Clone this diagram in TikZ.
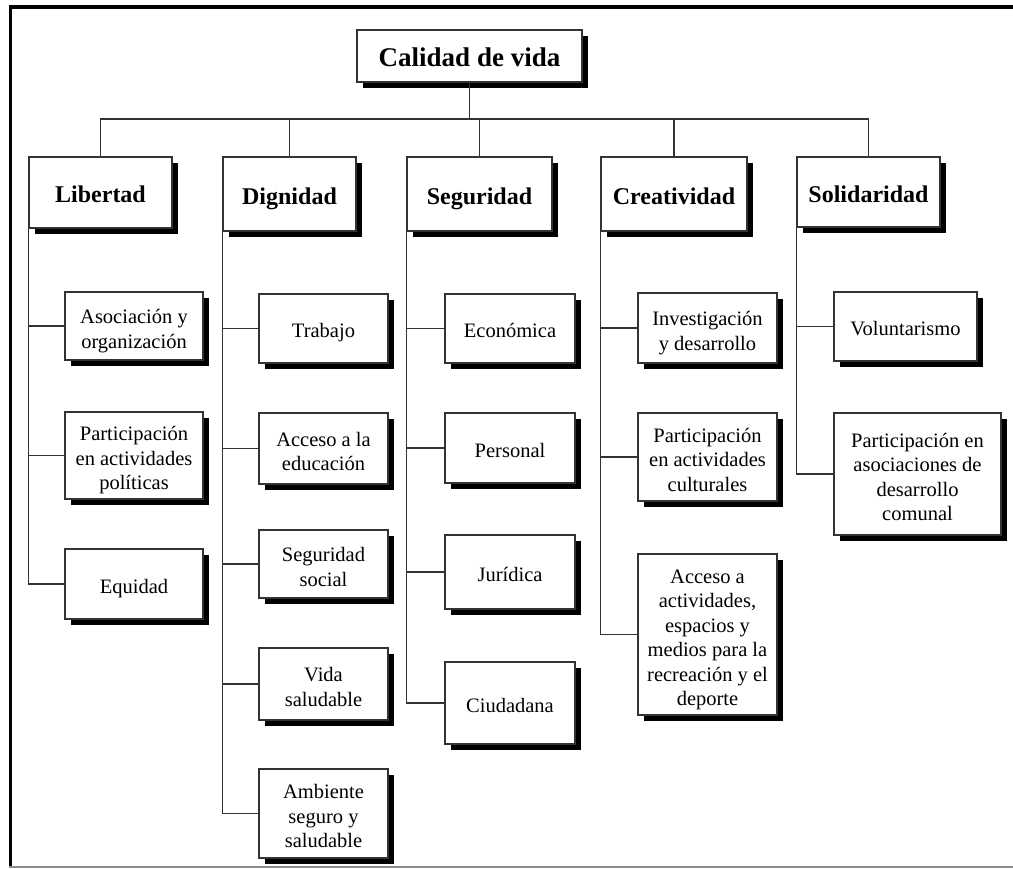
\documentclass[tikz,border=0pt]{standalone}
\usepackage{fontspec}
\setmainfont{Liberation Serif}
\usetikzlibrary{shadows}
\newcommand\topstrut{\rule{0pt}{\dimexpr0.7\baselineskip+9pt\relax}}
\newcommand\ms{\rule{0pt}{\dimexpr0.7\baselineskip+10pt\relax}}
\begin{document}
\begin{tikzpicture}[x=1pt,y=-1pt,
  box/.style={draw=black!80, line width=1.6pt, fill=white, align=center,
    inner sep=2pt, text=black,
    execute at begin node=\topstrut, execute at end node=\strut,
    drop shadow={shadow xshift=6pt, shadow yshift=-6pt, opacity=1, fill=black}},
  topbox/.style={box, font=\bfseries\fontsize{27}{31}\selectfont},
  headbox/.style={box, font=\bfseries\fontsize{24}{28}\selectfont},
  leafbox/.style={box, font=\fontsize{20.5}{24.5}\selectfont},
  conn/.style={draw=black!80, line width=1.4pt},
  frameline/.style={draw=black, line width=3.5pt}
]
\useasboundingbox (0,0) rectangle (1013,869);
% frame
\draw[frameline] (10.5,7) -- (1013,7);
\draw[frameline] (10.5,5.25) -- (10.5,867);
\draw[draw=black!45, line width=1.5pt] (9,867) -- (1013,867);

% top
\node[topbox, minimum width=225pt, minimum height=52pt] (top) at (469.5,56) {Calidad de vida};

% headers
\node[headbox, minimum width=143pt, minimum height=71pt] (lib) at (100.5,192.5) {Libertad};
\node[headbox, minimum width=133pt, minimum height=74pt] (dig) at (289.5,194) {Dignidad};
\node[headbox, minimum width=145pt, minimum height=74pt] (seg) at (479.5,194) {Seguridad};
\node[headbox, minimum width=146pt, minimum height=74pt] (cre) at (674,194) {Creatividad};
\node[headbox, minimum width=143pt, minimum height=70pt] (sol) at (868.5,192) {Solidaridad};

% Libertad children
\node[leafbox, minimum width=138pt, minimum height=68pt] (l1) at (134,326) {\ms Asociación y\\organización};
\node[leafbox, minimum width=138pt, minimum height=85pt] (l2) at (134,455.5) {\ms Participación\\en actividades\\políticas};
\node[leafbox, minimum width=138pt, minimum height=70pt] (l3) at (134,584) {Equidad};

% Dignidad children
\node[leafbox, minimum width=129pt, minimum height=69pt] (d1) at (323.5,328.5) {Trabajo};
\node[leafbox, minimum width=129pt, minimum height=71pt] (d2) at (323.5,448.5) {\ms Acceso a la\\educación};
\node[leafbox, minimum width=129pt, minimum height=68pt] (d3) at (323.5,564) {\ms Seguridad\\social};
\node[leafbox, minimum width=129pt, minimum height=72pt] (d4) at (323.5,684) {\ms Vida\\saludable};
\node[leafbox, minimum width=129pt, minimum height=89pt] (d5) at (323.5,813.5) {\ms Ambiente\\seguro y\\saludable};

% Seguridad children
\node[leafbox, minimum width=130pt, minimum height=69pt] (s1) at (510,328.5) {Económica};
\node[leafbox, minimum width=130pt, minimum height=70pt] (s2) at (510,448) {Personal};
\node[leafbox, minimum width=130pt, minimum height=74pt] (s3) at (510,572) {Jurídica};
\node[leafbox, minimum width=130pt, minimum height=82pt] (s4) at (510,703) {Ciudadana};

% Creatividad children
\node[leafbox, minimum width=139pt, minimum height=70pt] (c1) at (707.5,328) {\ms Investigación\\y desarrollo};
\node[leafbox, minimum width=139pt, minimum height=86pt] (c2) at (707.5,457) {\ms Participación\\en actividades\\culturales};
\node[leafbox, minimum width=139pt, minimum height=161pt] (c3) at (707.5,634.5) {\ms Acceso a\\actividades,\\espacios y\\medios para la\\recreación y el\\deporte};

% Solidaridad children
\node[leafbox, minimum width=143pt, minimum height=69pt] (o1) at (905.5,326.5) {Voluntarismo};
\node[leafbox, minimum width=167pt, minimum height=122pt] (o2) at (917.5,474) {\ms Participación en\\asociaciones de\\desarrollo\\comunal};

% connectors top level
\coordinate (bar) at (0,119);
\draw[conn] (top.south) -- (top.south |- bar);
\draw[conn] (lib.north) -- (lib.north |- bar) -- (sol.north |- bar) -- (sol.north);
\draw[conn] (dig.north) -- (dig.north |- bar);
\draw[conn] (seg.north) -- (seg.north |- bar);
\draw[conn] (cre.north) -- (cre.north |- bar);

% spines
\draw[conn] (lib.south west) |- (l1.west);
\draw[conn] (lib.south west) |- (l2.west);
\draw[conn] (lib.south west) |- (l3.west);

\draw[conn] (dig.south west) |- (d1.west);
\draw[conn] (dig.south west) |- (d2.west);
\draw[conn] (dig.south west) |- (d3.west);
\draw[conn] (dig.south west) |- (d4.west);
\draw[conn] (dig.south west) |- (d5.west);

\draw[conn] (seg.south west) |- (s1.west);
\draw[conn] (seg.south west) |- (s2.west);
\draw[conn] (seg.south west) |- (s3.west);
\draw[conn] (seg.south west) |- (s4.west);

\draw[conn] (cre.south west) |- (c1.west);
\draw[conn] (cre.south west) |- (c2.west);
\draw[conn] (cre.south west) |- (c3.west);

\draw[conn] (sol.south west) |- (o1.west);
\draw[conn] (sol.south west) |- (o2.west);
\end{tikzpicture}
\end{document}
